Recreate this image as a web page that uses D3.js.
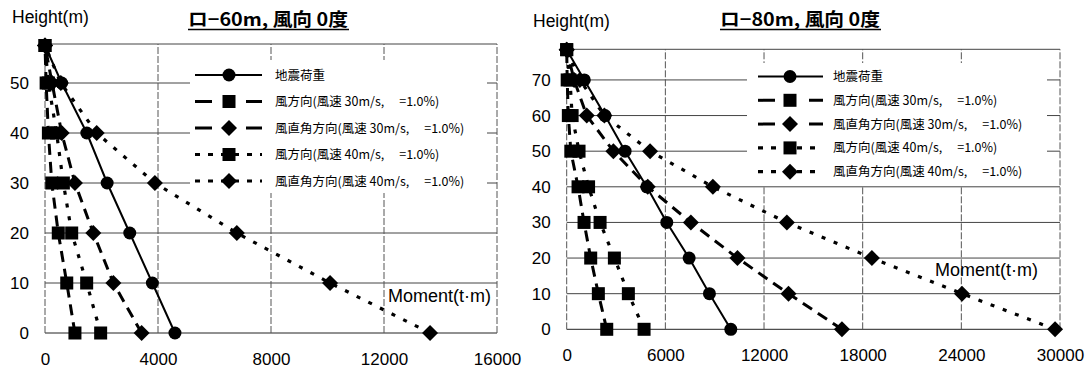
<!DOCTYPE html>
<html>
<head>
<meta charset="utf-8">
<script src="https://cdn.jsdelivr.net/npm/d3@7"></script>
<style>
  body { margin: 0; background: #fff; }
  svg { display: block; }
</style>
</head>
<body>
<svg id="chart" width="1092" height="371"></svg>
<script>
// ---- left chart : ロ-60m ----
var heights60    = [0, 10, 20, 30, 40, 50, 57.5];
var seismic60    = [4600, 3800, 3000, 2200, 1480, 590, 0];
var wind30Dir60  = [1060, 770, 470, 240, 120, 40, 0];
var wind30Perp60 = [3420, 2420, 1710, 1060, 590, 250, 0];
var wind40Dir60  = [1970, 1475, 945, 650, 410, 120, 0];
var wind40Perp60 = [13630, 10090, 6790, 3890, 1830, 560, 0];
var xTicks60 = [0, 4000, 8000, 12000, 16000];
var yTicks60 = [0, 10, 20, 30, 40, 50];

// ---- right chart : ロ-80m ----
var heights80    = [0, 10, 20, 30, 40, 50, 60, 70, 78.5];
var seismic80    = [9980, 8680, 7445, 6086, 4870, 3550, 2330, 1070, 0];
var wind30Dir80  = [2435, 1925, 1460, 1055, 690, 250, 100, 30, 0];
var wind30Perp80 = [16740, 13490, 10385, 7550, 4930, 2840, 1220, 450, 0];
var wind40Dir80  = [4705, 3750, 2900, 2030, 1330, 750, 330, 200, 0];
var wind40Perp80 = [29700, 24040, 18560, 13390, 8890, 5070, 2290, 800, 0];
var xTicks80 = [0, 6000, 12000, 18000, 24000, 30000];
var yTicks80 = [0, 10, 20, 30, 40, 50, 60, 70];

var seriesNames = ['地震荷重', '風方向(風速 30m/s,', '風直角方向(風速 30m/s,', '風方向(風速 40m/s,', '風直角方向(風速 40m/s,'];
var seriesTail = '=1.0%)';
var titles = ['ロ−60m, 風向 0度', 'ロ−80m, 風向 0度'];
var yTitle = 'Height(m)';
var xTitle = 'Moment(t·m)';

// marker + dash style for each series
var styles = [
    { marker: 'circle',  dash: null,   width: 2 },
    { marker: 'square',  dash: '11,7', width: 3 },
    { marker: 'diamond', dash: '11,7', width: 3 },
    { marker: 'square',  dash: '4,9',  width: 3.2 },
    { marker: 'diamond', dash: '4,9',  width: 3.2 }
];

var svg = d3.select('#chart');
var latin = 'Liberation Sans, Arial, sans-serif';
var cjk = '"Noto Sans CJK JP", sans-serif';

function drawMarker(g, type, cx, cy) {
    if (type == 'circle') {
        g.append('circle').attr('cx', cx).attr('cy', cy).attr('r', 6.5).attr('fill', '#000');
    } else if (type == 'square') {
        g.append('rect').attr('x', cx - 6.5).attr('y', cy - 6.5).attr('width', 13).attr('height', 13).attr('fill', '#000');
    } else {
        var s = 8;
        g.append('path')
            .attr('d', 'M' + cx + ',' + (cy - s) + 'L' + (cx + s) + ',' + cy + 'L' + cx + ',' + (cy + s) + 'L' + (cx - s) + ',' + cy + 'Z')
            .attr('fill', '#000');
    }
}

function drawPanel(p) {
    var g = svg.append('g');
    var x = d3.scaleLinear().domain([0, p.xMax]).range([p.x0, p.x1]);
    var y = d3.scaleLinear().domain([0, p.yMax]).range([p.y0, p.y1]);

    // grid
    g.selectAll('line.h').data(p.yTicks.concat([p.yMax])).enter().append('line')
        .attr('x1', x(0)).attr('x2', x(p.xMax))
        .attr('y1', function (d) { return y(d); }).attr('y2', function (d) { return y(d); })
        .attr('stroke', function (d) { return d == 0 ? '#222' : '#444'; })
        .attr('stroke-width', 1);
    g.selectAll('line.v').data(p.xTicks).enter().append('line')
        .attr('x1', function (d) { return x(d); }).attr('x2', function (d) { return x(d); })
        .attr('y1', y(0)).attr('y2', y(p.yMax))
        .attr('stroke', '#555').attr('stroke-width', 1)
        .attr('stroke-dasharray', '7,2');

    // legend background hides the grid behind it
    var L = p.legend;
    g.append('rect').attr('x', L.bx0).attr('y', L.by0)
        .attr('width', L.bx1 - L.bx0).attr('height', L.by1 - L.by0).attr('fill', '#fff');

    // tick labels through axes
    var xAxis = g.append('g').attr('transform', 'translate(0,' + (y(0) + 17) + ')')
        .call(d3.axisBottom(x).tickValues(p.xTicks).tickSize(0).tickFormat(d3.format('d')));
    var yAxis = g.append('g').attr('transform', 'translate(' + (x(0) - 13) + ',0)')
        .call(d3.axisLeft(y).tickValues(p.yTicks).tickSize(0).tickFormat(d3.format('d')));
    [xAxis, yAxis].forEach(function (a) {
        a.select('.domain').remove();
        a.selectAll('text').attr('fill', '#000').style('font-family', latin).style('font-size', '17px');
    });

    // series
    p.series.forEach(function (vals, i) {
        var st = styles[i];
        var pts = vals.map(function (v, k) { return [x(v), y(p.heights[k])]; });
        g.append('path').attr('d', d3.line()(pts))
            .attr('fill', 'none').attr('stroke', '#000')
            .attr('stroke-width', st.width)
            .attr('stroke-dasharray', st.dash);
    });
    p.series.forEach(function (vals, i) {
        vals.forEach(function (v, k) { drawMarker(g, styles[i].marker, x(v), y(p.heights[k])); });
    });

    // legend
    seriesNames.forEach(function (name, i) {
        var ly = L.y + i * L.dy;
        var st = styles[i];
        var dash = st.dash == null ? null : (i < 3 ? '17,34' : '5,8');
        g.append('line').attr('x1', L.lx0).attr('x2', L.lx1).attr('y1', ly).attr('y2', ly)
            .attr('stroke', '#000').attr('stroke-width', st.width).attr('stroke-dasharray', dash);
        drawMarker(g, st.marker, L.mx, ly);
        var t = g.append('text').attr('x', L.tx).attr('y', ly + 4.5)
            .style('font-family', cjk).style('font-size', '12.5px').text(name);
        if (i > 0) t.append('tspan').attr('dx', 15).text(seriesTail);
    });

    // titles
    g.append('text').attr('x', p.hx).attr('y', p.hy)
        .style('font-family', latin).style('font-size', '17.5px').text(yTitle);
    g.append('text').attr('x', p.mx).attr('y', p.my)
        .style('font-family', latin).style('font-size', '18px').text(xTitle);
    g.append('text').attr('x', p.tx).attr('y', 26)
        .attr('textLength', 160).attr('lengthAdjust', 'spacingAndGlyphs')
        .style('font-family', cjk).style('font-size', '18px').style('font-weight', 700)
        .text(p.title);
    g.append('line').attr('x1', p.tx).attr('x2', p.tx + 161).attr('y1', 29.5).attr('y2', 29.5)
        .attr('stroke', '#000').attr('stroke-width', 1.5);
}

drawPanel({
    x0: 45, x1: 497, y0: 333, y1: 44, xMax: 16000, yMax: 57.8,
    xTicks: xTicks60, yTicks: yTicks60, heights: heights60,
    series: [seismic60, wind30Dir60, wind30Perp60, wind40Dir60, wind40Perp60],
    legend: { bx0: 190, bx1: 487, by0: 60, by1: 193, lx0: 195, lx1: 262, mx: 229, tx: 275, y: 75, dy: 26.5 },
    hx: 12, hy: 23, mx: 388, my: 302, tx: 188, title: titles[0]
});
drawPanel({
    x0: 566.7, x1: 1060, y0: 329.3, y1: 49.3, xMax: 30000, yMax: 78.6,
    xTicks: xTicks80, yTicks: yTicks80, heights: heights80,
    series: [seismic80, wind30Dir80, wind30Perp80, wind40Dir80, wind40Perp80],
    legend: { bx0: 747, bx1: 1047, by0: 63, by1: 186, lx0: 758, lx1: 823, mx: 790, tx: 833, y: 76.5, dy: 23.8 },
    hx: 533, hy: 27, mx: 935, my: 276, tx: 720, title: titles[1]
});
</script>
</body>
</html>
